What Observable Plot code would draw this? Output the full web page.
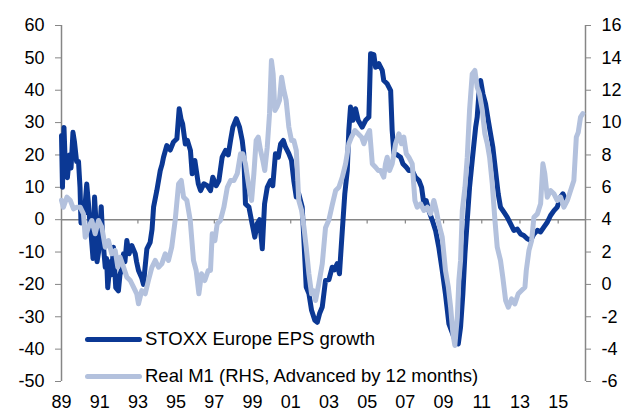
<!DOCTYPE html>
<html><head><meta charset="utf-8">
<script src="https://cdn.jsdelivr.net/npm/d3@7"></script>
<script src="https://cdn.jsdelivr.net/npm/@observablehq/plot@0.6"></script>
<style>
body{margin:0;background:#fff;}
#wrap{position:relative;width:632px;height:415px;font-family:"Liberation Sans",Arial,sans-serif;}
.leg{position:absolute;left:85px;height:22px;display:flex;align-items:center;font-size:18.5px;color:#000;white-space:nowrap;}
.leg .sw{display:inline-block;width:57px;height:5px;border-radius:3px;margin-right:3px;}
</style></head><body><div id="wrap"></div>
<script>
// STOXX Europe EPS growth (%, left axis)
const epsDates = [1989.00,1989.05,1989.13,1989.21,1989.31,1989.42,1989.50,1989.60,1989.68,1989.79,1989.89,1989.97,1990.02,1990.10,1990.20,1990.32,1990.41,1990.50,1990.57,1990.65,1990.73,1990.81,1990.86,1990.94,1991.08,1991.15,1991.20,1991.29,1991.36,1991.42,1991.55,1991.62,1991.72,1991.84,1991.98,1992.06,1992.16,1992.25,1992.32,1992.42,1992.54,1992.68,1992.86,1992.93,1993.03,1993.20,1993.29,1993.37,1993.47,1993.64,1993.74,1993.82,1993.99,1994.17,1994.26,1994.34,1994.51,1994.69,1994.86,1995.04,1995.16,1995.26,1995.34,1995.48,1995.59,1995.75,1995.84,1995.98,1996.16,1996.28,1996.45,1996.63,1996.80,1996.92,1997.10,1997.24,1997.41,1997.59,1997.73,1997.85,1997.97,1998.15,1998.32,1998.46,1998.54,1998.63,1998.81,1998.98,1999.12,1999.25,1999.37,1999.51,1999.63,1999.77,1999.94,2000.06,2000.20,2000.35,2000.47,2000.61,2000.73,2000.90,2001.04,2001.16,2001.29,2001.42,2001.60,2001.69,2001.81,2001.95,2002.09,2002.26,2002.39,2002.51,2002.65,2002.82,2003.00,2003.17,2003.29,2003.43,2003.55,2003.70,2003.83,2003.96,2004.04,2004.13,2004.25,2004.39,2004.53,2004.74,2004.92,2005.09,2005.18,2005.35,2005.44,2005.61,2005.79,2005.87,2006.05,2006.23,2006.31,2006.40,2006.58,2006.75,2006.87,2007.05,2007.18,2007.36,2007.53,2007.71,2007.85,2007.97,2008.09,2008.23,2008.41,2008.58,2008.75,2008.93,2009.10,2009.28,2009.54,2009.77,2009.89,2010.01,2010.12,2010.24,2010.36,2010.50,2010.68,2010.76,2010.85,2010.94,2011.06,2011.20,2011.34,2011.46,2011.58,2011.72,2011.86,2011.98,2012.16,2012.33,2012.51,2012.68,2012.86,2013.03,2013.20,2013.38,2013.56,2013.73,2013.91,2014.08,2014.25,2014.43,2014.60,2014.78,2014.95,2015.13,2015.25,2015.36];
const epsValues = [26,10,28.5,15,13,20,16,27,24,18,18,10,-1,4,2,11,5,-2,-6,-12,7,-1,-13,-10,4,-5,-8.5,-14.7,-12,-21,-13,-17,-8.5,-21,-22,-17,-15,-10.5,-13,-6.4,-10.5,-8,-10.5,-13,-15.7,-18,-20,-15,-9,-7,-3,3.9,9,15.2,17,19.3,22.9,21.5,24,25,34.3,31,29.6,23.4,24.5,21.4,14.2,18.3,11.1,9,11.1,10.5,9,13.1,10.5,12.1,19.3,21.4,20,24.5,28.6,31.2,28.6,24.5,20.4,4.9,3.9,-1.3,-5.4,-1.2,0,-9,4.9,10,12.1,10.5,20.4,19.3,23.4,24.5,22.4,20.4,18.3,12.1,7,8,3.9,-6.4,-20.8,-22.8,-28,-31.1,-31.7,-29,-27,-18.8,-18.5,-14.7,-15.5,-13.6,-16.7,-3.3,8,15.2,27.6,34.8,30.7,34.3,30.7,28.6,30.7,31.7,51.3,51,47.1,48.2,46.1,43,42,39.9,27.6,20.4,20,19.3,17.3,16.2,15.2,15.2,13.1,12.1,10,4.9,5.9,2.8,-0.2,-3.3,-8.5,-15.7,-23,-32.2,-36.3,-38.4,-33.2,-22.9,-10.5,-0.2,10,18.3,28.6,31.7,38.9,43,38.9,35.8,30.7,26.5,22.4,15.2,8,3.9,2.3,0.8,-1.3,-3.3,-2.9,-4.4,-4.9,-5.9,-6.4,-4.4,-3.3,-3.8,-2.3,-0.8,1.3,2.8,3.9,7,8,6.5];

// Real M1 (%, right axis, advanced by 12 months)
const m1Dates = [1989.00,1989.10,1989.28,1989.46,1989.63,1989.80,1989.98,1990.15,1990.24,1990.41,1990.59,1990.76,1990.94,1991.11,1991.20,1991.29,1991.46,1991.63,1991.81,1991.95,1992.07,1992.25,1992.42,1992.60,1992.77,1992.94,1993.03,1993.20,1993.38,1993.55,1993.73,1993.91,1994.08,1994.25,1994.43,1994.60,1994.77,1994.95,1995.13,1995.27,1995.39,1995.56,1995.74,1995.91,1996.05,1996.19,1996.33,1996.50,1996.68,1996.80,1996.89,1997.03,1997.15,1997.32,1997.50,1997.68,1997.85,1998.02,1998.20,1998.37,1998.49,1998.63,1998.81,1998.95,1999.07,1999.19,1999.30,1999.42,1999.54,1999.64,1999.77,1999.89,1999.99,2000.08,2000.17,2000.29,2000.41,2000.52,2000.64,2000.76,2000.90,2001.04,2001.16,2001.29,2001.42,2001.57,2001.69,2001.81,2001.95,2002.09,2002.21,2002.30,2002.47,2002.65,2002.82,2003.00,2003.17,2003.35,2003.52,2003.70,2003.87,2004.04,2004.18,2004.36,2004.53,2004.71,2004.83,2004.95,2005.13,2005.27,2005.44,2005.58,2005.70,2005.87,2005.96,2006.05,2006.17,2006.31,2006.49,2006.66,2006.80,2006.92,2007.05,2007.18,2007.36,2007.50,2007.62,2007.80,2007.97,2008.15,2008.32,2008.49,2008.62,2008.75,2008.93,2009.10,2009.25,2009.37,2009.49,2009.59,2009.72,2009.80,2009.89,2009.98,2010.12,2010.24,2010.36,2010.50,2010.64,2010.76,2010.88,2011.03,2011.16,2011.29,2011.41,2011.55,2011.69,2011.81,2011.98,2012.10,2012.25,2012.39,2012.56,2012.73,2012.91,2013.08,2013.26,2013.33,2013.47,2013.61,2013.73,2013.91,2014.08,2014.20,2014.30,2014.43,2014.60,2014.78,2014.95,2015.13,2015.30,2015.48,2015.65,2015.82,2015.95,2016.05,2016.17,2016.29];
const m1Values = [5.2,4.77,5.39,5.2,4.67,4.77,4.77,4.36,2.92,3.54,3.95,3.13,3.95,3.54,2.92,2.3,2.71,1.89,2.1,1.06,1.68,1.06,0.45,0.24,-0.17,-0.58,-1.2,-0.38,-0.58,0.24,1.06,1.48,1.06,1.27,1.89,1.48,2.3,3.95,6.22,6.42,5.39,5.2,3.95,1.48,0.86,-0.58,0.66,0.24,0.86,0.86,3.13,2.71,3.75,3.95,4.77,6.0,6.42,6.42,6.84,8.07,8.07,7.45,6.0,5.19,6.84,8.9,9.1,8.28,7.66,7.04,8.48,10.55,13.84,13.0,10.75,11,11.37,12.8,11.99,11.37,9.72,8.9,8.9,8.28,5.19,4.57,3.54,2.3,0.66,-0.58,-0.4,-1.0,0.04,1.27,3.5,4.0,4.9,5.8,6.0,6.63,7.45,8.69,9.1,9.51,9.31,9.1,8.69,9.1,9.51,7.45,7.24,7.04,7.04,6.63,7.45,7.86,7.04,7.45,8.69,9.31,8.69,9.1,8.07,7.86,7.45,5.19,4.77,4.98,4.57,4.77,4.36,5.19,4.57,3.75,2.92,0.86,-0.17,-1.41,-3.05,-3.77,-2.03,0.24,1.48,4.57,6.0,7.86,10.75,13.0,13.22,12.19,11.78,10.75,9.31,8.69,7.86,6.22,3.95,2.3,1.48,0.45,-1.0,-1.41,-0.89,-1.2,-0.58,-0.38,-0.17,0.86,2.1,2.71,4.15,4.36,4.98,7.45,6.84,5.39,5.8,5.6,5.19,5.39,4.77,5.19,5.8,6.42,9.1,9.4,10.34,10.55];

const leftTicks = [-50,-40,-30,-20,-10,0,10,20,30,40,50,60];
const rightTicks = [-6,-4,-2,0,2,4,6,8,10,12,14,16];
const xTickYears = [1989,1991,1993,1995,1997,1999,2001,2003,2005,2007,2009,2011,2013,2015];
const seriesNames = ["STOXX Europe EPS growth","Real M1 (RHS, Advanced by 12 months)"];
const seriesColors = ["#0b3894","#b3c1dd"];

// right axis value r maps onto left axis value (r-4)*5
const toLeft = r => (r - 4) * 5;
const eps = epsDates.map((d,i)=>({x:d,y:epsValues[i]}));
const m1 = m1Dates.map((d,i)=>({x:d,y:toLeft(m1Values[i])}));
const axisColor = "#868686";
const xMin = 1989, xMax = 2016.43;

const chart = Plot.plot({
  width:632, height:415,
  marginLeft:61, marginRight:47, marginTop:25, marginBottom:34,
  style:{fontFamily:"'Liberation Sans', Arial, sans-serif", fontSize:"18px", color:"#000", background:"#fff"},
  x:{domain:[xMin,xMax], label:null},
  y:{domain:[-50,60], label:null},
  marks:[
    Plot.ruleX([xMin],{stroke:axisColor, strokeWidth:1.5}),
    Plot.ruleX([xMax],{stroke:axisColor, strokeWidth:1.5}),
    Plot.ruleY([0],{stroke:axisColor, strokeWidth:1.5}),
    Plot.ruleX(xTickYears.slice(1),{x:d=>d, y1:0, y2:-1.3, stroke:axisColor, strokeWidth:1.2}),
    Plot.axisY(leftTicks,{anchor:"left", label:null, tickSize:6, tickPadding:11, stroke:axisColor, fill:"#000", tickFormat:d=>String(d), fontSize:18}),
    Plot.axisY(rightTicks.map(toLeft),{anchor:"right", label:null, tickSize:5, tickPadding:11, stroke:axisColor, fill:"#000", tickFormat:d=>String(Math.round(d/5+4)), fontSize:18}),
    Plot.axisX(xTickYears,{anchor:"bottom", label:null, tickSize:0, tickPadding:14, fill:"#000", tickFormat:d=>String(d).slice(2), fontSize:18}),
    Plot.line(eps,{x:"x", y:"y", stroke:seriesColors[0], strokeWidth:5, strokeLinejoin:"round", strokeLinecap:"round"}),
    Plot.line(m1,{x:"x", y:"y", stroke:seriesColors[1], strokeWidth:5, strokeLinejoin:"round", strokeLinecap:"round"})
  ]
});
const wrap = document.getElementById("wrap");
wrap.appendChild(chart);
const legTops = [328, 365];
seriesNames.forEach((name,i)=>{
  const d = document.createElement("div");
  d.className = "leg";
  d.style.top = legTops[i] + "px";
  const sw = document.createElement("span");
  sw.className = "sw";
  sw.style.background = seriesColors[i];
  d.appendChild(sw);
  d.appendChild(document.createTextNode(name));
  wrap.appendChild(d);
});
</script>
</body></html>
